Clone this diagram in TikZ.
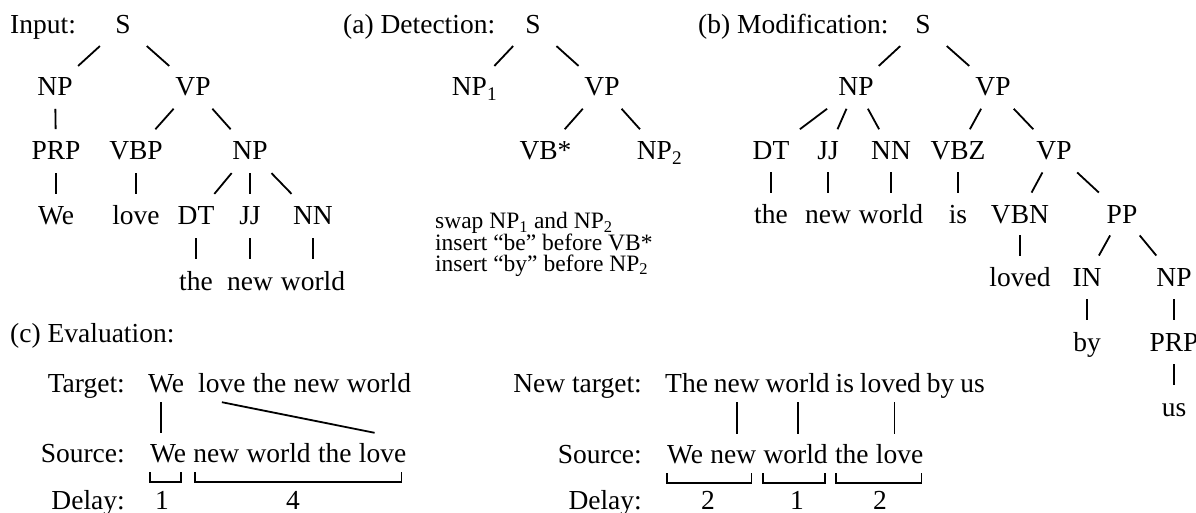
\documentclass[tikz,border=0pt]{standalone}
\usepackage{fontspec}
\setmainfont{Liberation Serif}
\usetikzlibrary{calc}
\newcommand\mainsz{\fontsize{27.5pt}{33pt}\selectfont}
\newcommand\smallsz{\fontsize{23.5pt}{21pt}\selectfont}
\newcommand\tedge[2]{\draw[ln] ($(#1)!0.34!(#2)$) -- ($(#1)!0.66!(#2)$);}
\begin{document}
\begin{tikzpicture}[x=1pt,y=-1pt,
  every node/.style={font=\mainsz, inner sep=0pt},
  tn/.style={anchor=base, text height=18pt, text depth=0pt},
  lbl/.style={anchor=base west},
  rl/.style={anchor=base east},
  tw/.style={anchor=base west, text height=19pt, text depth=0pt, inner xsep=0pt, inner ysep=10pt},
  ln/.style={line width=1.8pt},
  sm/.style={anchor=base west, font=\smallsz}]
\useasboundingbox (0,0) rectangle (1196,513);
% ---------- Input tree ----------
\node[lbl] (in) at (10,34) {Input:};
\node[tn] (aS) at (123,34) {S};
\node[tn] (aNP) at (55,96) {NP};
\node[tn] (aVP) at (193,96) {VP};
\node[tn] (aPRP) at (56,160) {PRP};
\node[tn] (aVBP) at (136,160) {VBP};
\node[tn] (aNPb) at (250,160) {NP};
\node[tn] (aWe) at (56,225) {We};
\node[tn] (alove) at (136,225) {love};
\node[tn] (aDT) at (196,225) {DT};
\node[tn] (aJJ) at (250,225) {JJ};
\node[tn] (aNN) at (313,225) {NN};
\node[tn] (athe) at (196,290) {the};
\node[tn] (anew) at (250,290) {new};
\node[tn] (aworld) at (313,290) {world};
\tedge{aS}{aNP}\tedge{aS}{aVP}
\tedge{aNP}{aPRP}\tedge{aVP}{aVBP}\tedge{aVP}{aNPb}
\tedge{aPRP}{aWe}\tedge{aVBP}{alove}
\tedge{aNPb}{aDT}\tedge{aNPb}{aJJ}\tedge{aNPb}{aNN}
\tedge{aDT}{athe}\tedge{aJJ}{anew}\tedge{aNN}{aworld}
% ---------- (a) Detection ----------
\node[lbl] (det) at (343,34) {(a) Detection:};
\node[tn] (bS) at (533,34) {S};
\node[tn] (bNPa) at (474.5,96) {NP\textsubscript{1}};
\node[tn] (bVP) at (602,96) {VP};
\node[tn] (bVB) at (545.5,160) {VB*};
\node[tn] (bNPb) at (659.5,160) {NP\textsubscript{2}};
\tedge{bS}{bNPa}\tedge{bS}{bVP}
\tedge{bVP}{bVB}\tedge{bVP}{bNPb}
\node[sm] (r1) at (435,229) {swap NP\textsubscript{1} and NP\textsubscript{2}};
\node[sm] (r2) at (435,250) {insert “be” before VB*};
\node[sm] (r3) at (435,271) {insert “by” before NP\textsubscript{2}};
% ---------- (b) Modification ----------
\node[lbl] (mod) at (698,34) {(b) Modification:};
\node[tn] (cS) at (923,34) {S};
\node[tn] (cNP) at (856,96) {NP};
\node[tn] (cVP) at (993,96) {VP};
\node[tn] (cDT) at (771,160) {DT};
\node[tn] (cJJ) at (828,160) {JJ};
\node[tn] (cNN) at (891,160) {NN};
\node[tn] (cVBZ) at (958,160) {VBZ};
\node[tn] (cVPb) at (1054,160) {VP};
\node[tn] (cthe) at (771,223) {the};
\node[tn] (cnew) at (828,223) {new};
\node[tn] (cworld) at (891,223) {world};
\node[tn] (cis) at (958,223) {is};
\node[tn] (cVBN) at (1020,223) {VBN};
\node[tn] (cPP) at (1122,223) {PP};
\node[tn] (cloved) at (1020,286) {loved};
\node[tn] (cIN) at (1087,286) {IN};
\node[tn] (cNPb) at (1174,286) {NP};
\node[tn] (cby) at (1087,351) {by};
\node[tn] (cPRP) at (1174,351) {PRP};
\node[tn] (cus) at (1174,416) {us};
\tedge{cS}{cNP}\tedge{cS}{cVP}
\tedge{cNP}{cDT}\tedge{cNP}{cJJ}\tedge{cNP}{cNN}
\tedge{cVP}{cVBZ}\tedge{cVP}{cVPb}
\tedge{cDT}{cthe}\tedge{cJJ}{cnew}\tedge{cNN}{cworld}\tedge{cVBZ}{cis}
\tedge{cVPb}{cVBN}\tedge{cVPb}{cPP}
\tedge{cVBN}{cloved}\tedge{cPP}{cIN}\tedge{cPP}{cNPb}
\tedge{cIN}{cby}\tedge{cNPb}{cPRP}\tedge{cPRP}{cus}
% ---------- (c) Evaluation, left ----------
\node[lbl] (ev) at (10,342) {(c) Evaluation:};
\node[rl] (tl) at (125,392) {Target:};
\node[rl] (sl) at (125,462) {Source:};
\node[rl] (dl) at (125,509) {Delay:};
\node[tw] (tWe) at (148,392) {We};
\node[tw] (tlove) at (198,392) {love};
\node[tw] (tthe) at ([xshift=6.9pt]tlove.base east) {the};
\node[tw] (tnew) at ([xshift=6.9pt]tthe.base east) {new};
\node[tw] (tworld) at ([xshift=6.9pt]tnew.base east) {world};
\node[tw] (sWe) at (150,462) {We};
\node[tw] (snew) at ([xshift=6.9pt]sWe.base east) {new};
\node[tw] (sworld) at ([xshift=6.9pt]snew.base east) {world};
\node[tw] (sthe) at ([xshift=6.9pt]sworld.base east) {the};
\node[tw] (slove) at ([xshift=6.9pt]sthe.base east) {love};
\draw[ln] ([xshift=-5pt]tWe.south) -- ([xshift=-5pt]tWe.south |- sWe.north);
\draw[ln] (tlove.south) -- ([xshift=-8pt]slove.north);
\draw[ln] (sWe.south west) -- ++(0,10) -| ([xshift=-5pt]sWe.south east);
\draw[ln] ([xshift=2pt]snew.south west) -- ++(0,10) -| ([xshift=-5pt]slove.south east);
\node[tn] (d1) at (162,509) {1};
\node[tn] (d4) at (293,509) {4};
% ---------- (c) Evaluation, right ----------
\node[rl] (ntl) at (642,392) {New target:};
\node[rl] (slb) at (642,463) {Source:};
\node[rl] (dlb) at (642,509) {Delay:};
\node[tw] (vThe) at (665,392) {The};
\node[tw] (vnew) at ([xshift=5.5pt]vThe.base east) {new};
\node[tw] (vworld) at ([xshift=5.5pt]vnew.base east) {world};
\node[tw] (vis) at ([xshift=5.5pt]vworld.base east) {is};
\node[tw] (vloved) at ([xshift=5.5pt]vis.base east) {loved};
\node[tw] (vby) at ([xshift=5.5pt]vloved.base east) {by};
\node[tw] (vus) at ([xshift=5.5pt]vby.base east) {us};
\node[tw] (uWe) at (667,463) {We};
\node[tw] (unew) at ([xshift=6.9pt]uWe.base east) {new};
\node[tw] (uworld) at ([xshift=6.9pt]unew.base east) {world};
\node[tw] (uthe) at ([xshift=6.9pt]uworld.base east) {the};
\node[tw] (ulove) at ([xshift=6.9pt]uthe.base east) {love};
\draw[ln] (vnew.south) -- (vnew.south |- unew.north);
\draw[ln] (vworld.south) -- (vworld.south |- uworld.north);
\draw[ln] ([xshift=4pt]vloved.south) -- ([xshift=4pt]vloved.south |- ulove.north);
\draw[ln] (uWe.south west) -- ++(0,10) -| ([xshift=-5pt]unew.south east);
\draw[ln] (uworld.south west) -- ++(0,10) -| ([xshift=-3pt]uworld.south east);
\draw[ln] ([xshift=1pt]uthe.south west) -- ++(0,10) -| ([xshift=-2pt]ulove.south east);
\node[tn] (e1) at (708,509) {2};
\node[tn] (e2) at (797,509) {1};
\node[tn] (e3) at (880,509) {2};
\end{tikzpicture}
\end{document}
